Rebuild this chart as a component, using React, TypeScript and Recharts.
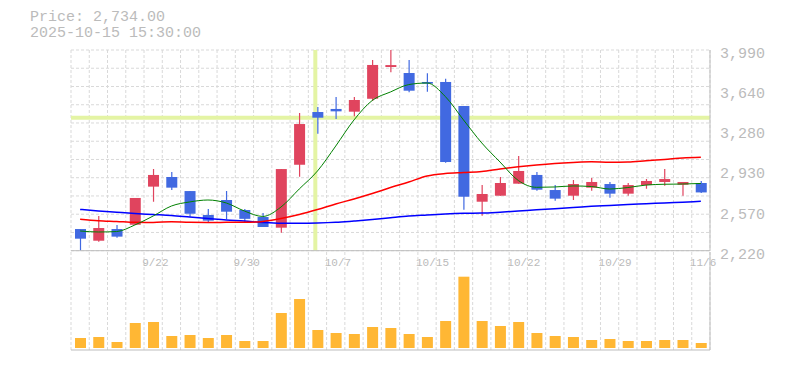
import React from 'react';
import {
  ComposedChart,
  Bar,
  Line,
  XAxis,
  YAxis,
  CartesianGrid,
  ReferenceLine,
  BarChart
} from 'recharts';

const dates = [
  '9/16', '9/17', '9/18', '9/19', '9/22', '9/24', '9/25', '9/26', '9/29', '9/30',
  '10/1', '10/2', '10/3', '10/6', '10/7', '10/8', '10/9', '10/10', '10/14', '10/15',
  '10/16', '10/17', '10/20', '10/21', '10/22', '10/23', '10/24', '10/27', '10/28', '10/29',
  '10/30', '10/31', '11/4', '11/5', '11/6'
];
const opens = [
  2411, 2308, 2411, 2449, 2785, 2870, 2746, 2535, 2667, 2579,
  2517, 2423, 2978, 3443, 3470, 3446, 3560, 3840, 3787, 3708,
  3708, 3496, 2652, 2705, 2811, 2888, 2755, 2705, 2776, 2808,
  2723, 2799, 2826, 2802, 2817
];
const highs = [
  2411, 2526, 2447, 2685, 2940, 2914, 2746, 2588, 2746, 2588,
  2552, 2940, 3434, 3487, 3575, 3575, 3902, 3990, 3902, 3784,
  3737, 3496, 2799, 2870, 3055, 2914, 2799, 2843, 2861, 2826,
  2817, 2852, 2940, 2826, 2835
];
const lows = [
  2220, 2299, 2335, 2449, 2652, 2755, 2520, 2473, 2497, 2469,
  2429, 2379, 2873, 3252, 3381, 3405, 3540, 3793, 3617, 3622,
  2996, 2582, 2529, 2705, 2811, 2749, 2661, 2667, 2749, 2687,
  2705, 2767, 2793, 2705, 2729
];
const closes = [
  2326, 2420, 2344, 2685, 2888, 2776, 2546, 2485, 2564, 2501,
  2429, 2940, 3337, 3393, 3449, 3549, 3858, 3857, 3631, 3693,
  3002, 2696, 2720, 2817, 2923, 2758, 2679, 2808, 2826, 2723,
  2799, 2835, 2852, 2826, 2734
];
const maShort = [
  2394, 2385, 2389, 2447, 2526, 2614, 2650, 2667, 2641, 2570,
  2522, 2605, 2764, 2923, 3143, 3373, 3545, 3620, 3685, 3699,
  3580, 3373, 3170, 3002, 2839, 2779, 2782, 2791, 2786, 2764,
  2777, 2799, 2806, 2808, 2813
];
const maMid = [
  2498, 2485, 2478, 2470, 2469, 2476, 2470, 2469, 2470, 2470,
  2478, 2504, 2539, 2583, 2632, 2676, 2724, 2777, 2826, 2879,
  2901, 2910, 2919, 2941, 2960, 2976, 2989, 2998, 3004, 3000,
  3002, 3013, 3024, 3038, 3044
];
const maLong = [
  2584, 2570, 2559, 2548, 2539, 2530, 2517, 2504, 2491, 2482,
  2469, 2462, 2462, 2464, 2470, 2482, 2495, 2511, 2526, 2535,
  2544, 2550, 2552, 2560, 2570, 2582, 2591, 2600, 2611, 2619,
  2627, 2634, 2641, 2648, 2656
];
const volumes = [
  120, 130, 80, 270, 280, 140, 150, 120, 150, 90,
  90, 370, 510, 200, 170, 160, 230, 220, 160, 130,
  290, 733, 290, 240, 280, 170, 140, 130, 100, 110,
  90, 90, 100, 100, 70
];
const priceTicks = [2220, 2574, 2928, 3282, 3636, 3990];
const dateTicks = ['9/22', '9/30', '10/7', '10/15', '10/22', '10/29', '11/6'];
const crossIndex = 13;

const UP = '#e0445e';
const DOWN = '#4169e1';
const TEXT = '#bbbbbb';
const GRID = '#d9d9d9';
const AXIS = '#bdbdbd';
const CROSS = '#e4f4a4';
const MONO = "'Liberation Mono', 'DejaVu Sans Mono', monospace";

const rows = dates.map((date, i) => ({
  date,
  open: opens[i],
  high: highs[i],
  low: lows[i],
  close: closes[i],
  range: [lows[i], highs[i]],
  ma5: maShort[i],
  ma25: maMid[i],
  ma75: maLong[i],
  vol: volumes[i]
}));

const priceMargin = { top: 50, right: 0, left: 71, bottom: 99.3 };

const bandLines = ({ offset }: any) =>
  Array.from({ length: dates.length + 1 }, (_, i) => offset.left + (i * offset.width) / dates.length);
const rowLines = ({ offset }: any) =>
  Array.from({ length: 12 }, (_, i) => offset.top + (i * offset.height) / 11);

const Candle = (props: any) => {
  const { x, y, width, height, payload } = props;
  if (!payload) return null;
  const { open, close, high, low } = payload;
  const color = close >= open ? UP : DOWN;
  const top = Math.min(y, y + height);
  const h = Math.abs(height);
  const ratio = high > low ? h / (high - low) : 0;
  const bodyTop = top + (high - Math.max(open, close)) * ratio;
  const bodyH = Math.max(1.5, Math.abs(open - close) * ratio);
  const cx = x + width / 2;
  return (
    <g>
      <line x1={cx} x2={cx} y1={top} y2={top + h} stroke={color} strokeWidth={1.2} />
      <rect x={x} y={bodyTop} width={width} height={bodyH} fill={color} />
    </g>
  );
};

const VolBar = (props: any) => {
  const { x, y, width, height } = props;
  return <rect x={x} y={y} width={width} height={Math.max(0, height - 2)} fill="#ffb734" />;
};

const PriceTick = (props: any) => {
  const { x, y, payload } = props;
  const label = (Math.round(payload.value / 10) * 10).toLocaleString('en-US');
  return (
    <text x={x + 10} y={y + 8} fill={TEXT} fontSize={15} fontFamily={MONO} textAnchor="start">
      {label}
    </text>
  );
};

const DateTick = (props: any) => {
  const { x, y, payload } = props;
  return (
    <text x={x - 11} y={y + 15} fill={TEXT} fontSize={11} fontFamily={MONO} textAnchor="start">
      {payload.value}
    </text>
  );
};

export default function App() {
  return (
    <div style={{ position: 'absolute', left: 0, top: 0, width: 785, height: 370, background: '#fff', fontFamily: MONO }}>
      <div style={{ position: 'absolute', left: 30, top: 10, color: TEXT, fontSize: 15, lineHeight: '15.5px', whiteSpace: 'pre' }}>
        <div>Price: 2,734.00</div>
        <div>2025-10-15 15:30:00</div>
      </div>

      {/* volume panel */}
      <div style={{ position: 'absolute', left: 0, top: 0 }}>
        <BarChart width={785} height={370} data={rows} margin={{ top: 252, right: 0, left: 71, bottom: 19 }} barCategoryGap={0}>
          <CartesianGrid horizontal={false} verticalCoordinatesGenerator={bandLines} stroke={GRID} strokeDasharray="3 2" />
          <XAxis dataKey="date" height={1} tick={false} tickLine={false} axisLine={{ stroke: AXIS }} />
          <YAxis orientation="right" width={75} domain={[0, 980]} tick={false} tickLine={false} axisLine={{ stroke: AXIS }} />
          <Bar dataKey="vol" barSize={11} shape={<VolBar />} isAnimationActive={false} />
        </BarChart>
      </div>

      {/* price panel background: grid + crosshair, kept under the candles */}
      <div style={{ position: 'absolute', left: 0, top: 0 }}>
        <ComposedChart width={785} height={370} data={rows} margin={priceMargin}>
          <CartesianGrid
            verticalCoordinatesGenerator={bandLines}
            horizontalCoordinatesGenerator={rowLines}
            stroke={GRID}
            strokeDasharray="3 2"
          />
          <XAxis dataKey="date" height={20} tick={false} tickLine={false} axisLine={false} />
          <YAxis orientation="right" width={75} type="number" domain={[2220, 3990]} allowDataOverflow tick={false} tickLine={false} axisLine={false} />
          <ReferenceLine x={dates[crossIndex]} stroke={CROSS} strokeWidth={4} />
          <ReferenceLine y={closes[crossIndex]} stroke={CROSS} strokeWidth={4} />
          <Line dataKey="close" stroke="none" dot={false} activeDot={false} isAnimationActive={false} />
        </ComposedChart>
      </div>

      {/* price panel: axes, moving averages, candles */}
      <div style={{ position: 'absolute', left: 0, top: 0 }}>
        <ComposedChart width={785} height={370} data={rows} margin={priceMargin} barCategoryGap={0}>
          <XAxis
            dataKey="date"
            height={20}
            ticks={dateTicks}
            interval={0}
            tickLine={false}
            tickSize={0}
            tickMargin={0}
            axisLine={{ stroke: AXIS }}
            tick={<DateTick />}
          />
          <YAxis
            orientation="right"
            width={75}
            type="number"
            domain={[2220, 3990]}
            ticks={priceTicks}
            allowDataOverflow
            tickLine={false}
            tickSize={0}
            tickMargin={0}
            axisLine={{ stroke: AXIS }}
            tick={<PriceTick />}
          />
          <Line type="monotone" dataKey="ma75" stroke="#0000ff" strokeWidth={1.5} dot={false} activeDot={false} isAnimationActive={false} />
          <Line type="monotone" dataKey="ma25" stroke="#ff0000" strokeWidth={1.5} dot={false} activeDot={false} isAnimationActive={false} />
          <Line type="monotone" dataKey="ma5" stroke="#008000" strokeWidth={1} dot={false} activeDot={false} isAnimationActive={false} />
          <Bar dataKey="range" barSize={11} shape={<Candle />} isAnimationActive={false} />
        </ComposedChart>
      </div>
    </div>
  );
}
